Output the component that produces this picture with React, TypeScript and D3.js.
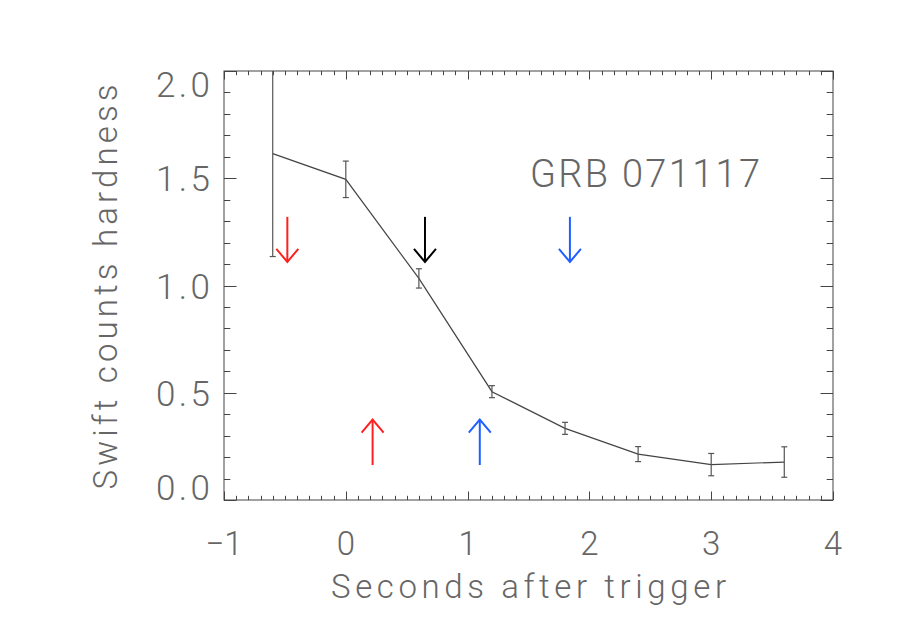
import React from "react";
import * as d3 from "d3";

const times = [-0.6, 0.0, 0.6, 1.2, 1.8, 2.4, 3.0, 3.6];
const hardness = [1.615, 1.495, 1.033, 0.505, 0.334, 0.214, 0.165, 0.177];
const errors = [0.48, 0.085, 0.045, 0.028, 0.028, 0.035, 0.052, 0.071];

const xTicks = [-1, 0, 1, 2, 3, 4];
const yTicks = [0.0, 0.5, 1.0, 1.5, 2.0];

const downArrowX = [-0.48, 0.65, 1.84];
const downArrowColors = ["#ff2020", "#000000", "#1f5fff"];
const downArrowFrom = 1.32;
const downArrowTo = 1.11;

const upArrowX = [0.22, 1.1];
const upArrowColors = ["#ff2020", "#1f5fff"];
const upArrowFrom = 0.163;
const upArrowTo = 0.375;

const label = "GRB 071117";
const xTitle = "Seconds after trigger";
const yTitle = "Swift counts hardness";

const W = 900, H = 643;
const L = 224, R = 833, T = 71, B = 500;
const FONT = "Roboto, 'DejaVu Sans', sans-serif";
const AX = "#444";
const TXT = "#666";

export default function App() {
  const x = d3.scaleLinear().domain([-1, 4]).range([L, R]);
  const y = d3.scaleLinear().domain([0, 2]).range([B, T]);
  const pts = times.map((t, i) => [t, hardness[i]] as [number, number]);
  const line = d3.line<[number, number]>().x(d => x(d[0])).y(d => y(d[1]))(pts) || "";

  const xMinor = d3.range(-1, 4.0001, 0.1);
  const yMinor = d3.range(0, 2.0001, 0.1);
  const isMajor = (v: number, step: number) => Math.abs(v / step - Math.round(v / step)) < 1e-6;

  const xMaj = 8.5, xMin = 4.2, yMaj = 12.5, yMin = 6.3;
  const cap = 26;

  const arrow = (px: number, y0: number, y1: number, color: string, key: string) => {
    const dir = y1 > y0 ? 1 : -1;
    const hw = 11, hh = 13;
    return (
      <g key={key} stroke={color} strokeWidth={2} fill="none">
        <line x1={px} y1={y0} x2={px} y2={y1} />
        <polyline points={`${px - hw},${y1 - dir * hh} ${px},${y1} ${px + hw},${y1 - dir * hh}`} />
      </g>
    );
  };

  return (
    <svg width={W} height={H} style={{ position: "absolute", left: 0, top: 0, background: "#fff" }}>
      <defs>
        <clipPath id="plot">
          <rect x={L} y={T} width={R - L} height={B - T} />
        </clipPath>
      </defs>
      <rect x={0} y={0} width={W} height={H} fill="#fff" />
      <rect x={L} y={T} width={R - L} height={B - T} fill="none" stroke={AX} strokeWidth={1} />
      {xMinor.map((v, i) => {
        const len = isMajor(v, 1) ? xMaj : xMin;
        const px = Math.round(x(v)) + 0.5;
        return (
          <g key={"xt" + i} stroke={AX} strokeWidth={1}>
            <line x1={px} x2={px} y1={B} y2={B - len} />
            <line x1={px} x2={px} y1={T} y2={T + len} />
          </g>
        );
      })}
      {yMinor.map((v, i) => {
        const len = isMajor(v, 0.5) ? yMaj : yMin;
        const py = Math.round(y(v)) + 0.5;
        return (
          <g key={"yt" + i} stroke={AX} strokeWidth={1}>
            <line x1={L} x2={L + len} y1={py} y2={py} />
            <line x1={R} x2={R - len} y1={py} y2={py} />
          </g>
        );
      })}
      {xTicks.map(v => (
        <text key={"xl" + v} x={x(v)} y={555} textAnchor="middle" fontFamily={FONT} fontWeight={300}
          fontSize={33} fill={TXT}>{v < 0 ? "\u2212" + Math.abs(v) : String(v)}</text>
      ))}
      {yTicks.map(v => {
        const by = Math.min(B, Math.max(T + cap, y(v) + cap / 2));
        return (
          <text key={"yl" + v} x={210} y={by} textAnchor="end" fontFamily={FONT} fontWeight={300}
            fontSize={35} fill={TXT} textLength={54} lengthAdjust="spacing">{v.toFixed(1)}</text>
        );
      })}
      <text x={(L + R) / 2} y={598} textAnchor="middle" fontFamily={FONT} fontWeight={300} fontSize={33}
        fill={TXT} textLength={395} lengthAdjust="spacing">{xTitle}</text>
      <text transform={`translate(117,287) rotate(-90)`} textAnchor="middle" fontFamily={FONT} fontWeight={300}
        fontSize={33} fill={TXT} textLength={405} lengthAdjust="spacing">{yTitle}</text>
      <text x={530} y={187} fontFamily={FONT} fontWeight={300} fontSize={38} fill={TXT}
        textLength={230} lengthAdjust="spacing">{label}</text>
      <g clipPath="url(#plot)">
        <path d={line} fill="none" stroke={AX} strokeWidth={1.2} />
        {times.map((t, i) => {
          const px = x(t);
          const y0 = y(hardness[i] + errors[i]);
          const y1 = y(hardness[i] - errors[i]);
          return (
            <g key={"e" + i} stroke="#555" strokeWidth={1.2}>
              <line x1={px} x2={px} y1={y0} y2={y1} />
              <line x1={px - 3} x2={px + 3} y1={y0} y2={y0} />
              <line x1={px - 3} x2={px + 3} y1={y1} y2={y1} />
            </g>
          );
        })}
      </g>
      {downArrowX.map((v, i) => arrow(x(v), y(downArrowFrom), y(downArrowTo), downArrowColors[i], "d" + i))}
      {upArrowX.map((v, i) => arrow(x(v), y(upArrowFrom), y(upArrowTo), upArrowColors[i], "u" + i))}
    </svg>
  );
}
